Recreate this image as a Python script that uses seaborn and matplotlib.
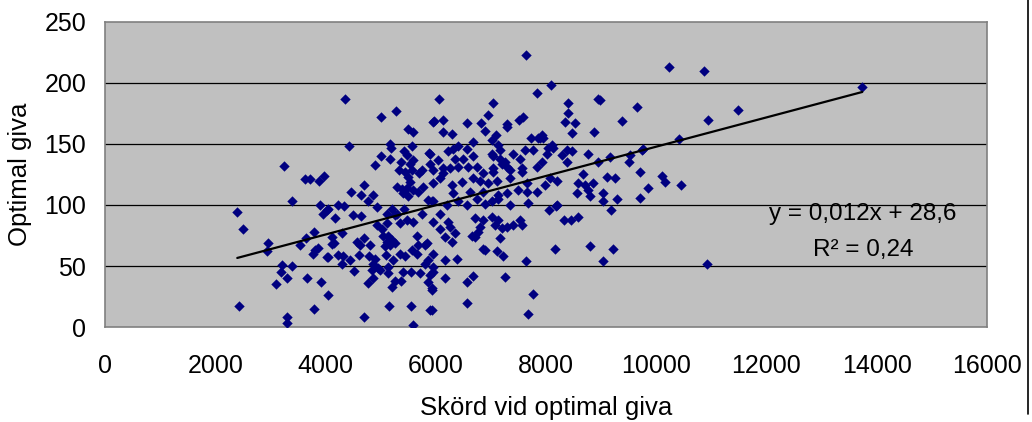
import numpy as np
import pandas as pd
import matplotlib
matplotlib.use("Agg")
import matplotlib.pyplot as plt
import seaborn as sns

# skord vid optimal giva (x) och optimal giva (y), avlasta ur diagrammet
skord = [
    2400, 3252, 3398, 3628, 3718, 3882, 3972, 3900, 3960, 4020,
    2497, 2963, 2945, 3205, 3187, 3386, 3295, 3102, 2436, 3295, 3307, 3670, 3918, 3797, 4050,
    3537, 3646, 3791, 3809, 3778, 3858, 4032,
    4353, 5001, 5273, 5502, 5581, 4426, 5170, 5182, 5574, 5955, 5001, 5170, 5424, 5472, 4897,
    5369, 5592, 5532, 5333, 5442, 5574, 5743, 5701, 5490, 5532, 5877, 5895, 4462, 4698, 4638,
    4867, 4765, 4929, 5291, 5382, 5472, 5400, 5490, 5592, 5672, 5763, 5864, 5937, 4039, 4232,
    4341, 4172, 4504, 4644, 5199, 5108, 5424, 5291, 5743,
    5260, 5472, 5592, 5351, 5108, 4929, 5019, 5049, 5139, 5199, 5108, 5170, 5260, 5079, 4123,
    4160, 4112, 4293, 4577, 4704, 4626, 4807, 4050, 4232, 4323, 4305, 4444, 4522, 4613, 4794,
    4897, 4867, 4838, 4957, 4854, 4765, 5090, 5228, 5139, 5127, 4988, 5260, 5369, 5199, 5411,
    5550, 5714, 5351, 5442, 5563, 5654, 5683, 5804, 5835, 5654, 5804, 5864, 5853, 5924, 5157,
    5550, 5895, 4704, 5581,
    7630, 7829, 6058, 7044, 5968, 6125, 6135, 6289, 6570, 6820, 6893, 6942, 7286, 7298, 7513,
    7576, 7722, 7848, 6680, 7012, 7092, 6227, 6318, 6409, 6561, 5895, 6045, 6349, 6499, 6680,
    7012, 7134, 7165, 7044, 7165, 7256, 7406, 7528, 7618, 7770, 6135, 6409, 6742, 7044, 7286,
    7558,
    5955, 6136, 6258, 6590, 6862, 7044, 7195, 7346, 7558, 7830,
    5955, 6076, 6288, 6469, 6680, 6802, 6952, 7104, 7346, 7648,
    6318, 6621, 6862, 7134, 7286, 7497, 7648, 7830,
    5955, 6197, 6409, 6560, 6742, 6893, 7013, 7134, 7346, 7677,
    6076, 6227, 5955, 6076, 6258, 6349, 6167, 6288,
    6711, 6862, 7013, 7134, 7074, 7195, 7286, 7406, 7528, 7558, 6802, 6772, 6651, 6711,
    7165, 6862, 6893, 7104, 7226, 7637, 5955, 5955, 5955, 6167, 6378, 5895, 6167, 6680, 6560,
    7256, 5925, 6560, 7756, 7677, 5925,
    8090, 8393, 8935, 8978, 9644, 8404, 8344, 8525, 8464, 9382, 8868, 7920, 7890, 7950, 8101,
    8041, 8131, 8374, 8464, 8283, 8766, 9160, 9523, 9735,
    7921, 8011, 8374, 8947, 9510, 9704,
    8071, 8192, 7980, 8676, 8585, 8856, 8706, 8766, 8555, 8796, 9099, 9250, 9038, 9038, 9281,
    9180, 9704,
    8053, 8175, 8193, 8332, 8453, 8574, 8162, 8797, 9220, 9026,
    10236, 10871, 11477, 10943, 10417, 9765, 10097, 10157, 9855, 10448, 10912,
    13737,
]
giva = [
    94, 132, 103, 121, 121, 120, 124, 100, 93, 96,
    80, 69, 62, 51, 45, 50, 40, 35, 17, 8, 3, 40, 37, 15, 26,
    67, 73, 78, 63, 60, 65, 57,
    187, 172, 177, 162, 160, 148, 150, 147, 148, 168, 140, 138, 144, 141, 133,
    135, 137, 134, 129, 127, 129, 129, 126, 123, 119, 143, 134, 111, 116, 108,
    108, 103, 98, 115, 113, 114, 110, 107, 112, 111, 115, 104, 103, 97, 100,
    99, 89, 92, 91, 97, 93, 97, 93, 93,
    92, 88, 86, 85, 85, 84, 80, 75, 75, 71, 70, 67, 69, 66, 74,
    69, 68, 77, 70, 73, 67, 67, 57, 59, 58, 52, 55, 46, 59, 58,
    56, 52, 47, 48, 40, 36, 59, 55, 49, 44, 47, 38, 38, 33, 45,
    45, 44, 60, 58, 63, 60, 67, 67, 69, 75, 52, 55, 37, 30, 17,
    17, 14, 8, 2,
    223, 192, 187, 184, 169, 170, 160, 158, 167, 167, 161, 174, 166, 164, 170,
    172, 155, 155, 152, 153, 157, 144, 146, 148, 146, 142, 137, 138, 138, 140,
    142, 149, 145, 140, 138, 135, 142, 138, 145, 145, 130, 131, 131, 130, 131,
    130,
    129, 126, 130, 131, 126, 127, 134, 129, 127, 131,
    118, 122, 116, 119, 122, 120, 118, 120, 122, 118,
    110, 111, 111, 108, 110, 112, 111, 111,
    103, 100, 103, 100, 105, 101, 103, 105, 100, 102,
    93, 86, 86, 80, 82, 77, 74, 70,
    89, 88, 90, 88, 84, 81, 82, 84, 88, 84, 82, 78, 75, 74,
    73, 64, 63, 62, 58, 54, 60, 49, 45, 55, 56, 43, 40, 42, 37,
    41, 32, 20, 27, 11, 14,
    198, 184, 187, 186, 180, 175, 168, 167, 159, 169, 160, 157, 155, 155, 149,
    147, 147, 145, 144, 141, 142, 139, 141, 145,
    135, 142, 135, 135, 135, 127,
    122, 120, 116, 125, 118, 118, 116, 112, 110, 107, 123, 122, 110, 103, 105,
    96, 106,
    96, 99, 100, 88, 88, 90, 64, 66, 64, 54,
    213, 210, 178, 170, 154, 146, 124, 119, 114, 116, 52,
    197,
]

# linjar trend enligt ekvationen i diagrammet
lutning = 0.012
intercept = 28.6
r2 = 0.24

df = pd.DataFrame({"skord": skord, "giva": giva})

sns.set_theme(style="white")
plt.rcParams["font.family"] = ["Liberation Sans", "DejaVu Sans"]
plt.rcParams["text.color"] = "black"
plt.rcParams["axes.labelcolor"] = "black"

fig = plt.figure(figsize=(10.32, 4.22), dpi=100)
ax = fig.add_axes([0.1017, 0.2251, 0.8547, 0.7228])
ax.set_facecolor("#C0C0C0")

sns.scatterplot(data=df, x="skord", y="giva", marker="D", s=28, color="#000080",
                edgecolor="#000080", linewidth=0, ax=ax, zorder=3)

xt = np.array([df["skord"].min(), df["skord"].max()])
ax.plot(xt, lutning * xt + intercept - 0.8, color="black", lw=1.6, zorder=4)

ax.set_xlim(0, 16000)
ax.set_ylim(0, 250)
ax.set_xticks(range(0, 16001, 2000))
ax.set_yticks(range(0, 251, 50))
for yv in [50, 100, 150, 200]:
    ax.axhline(yv, color="black", lw=0.9, zorder=1)

for sp in ax.spines.values():
    sp.set_color("#808080")
    sp.set_linewidth(1.2)
ax.tick_params(axis="both", direction="out", length=5.5, width=1, color="#808080",
               labelsize=18, labelcolor="black")
ax.tick_params(axis="y", pad=8)
ax.tick_params(axis="x", pad=14)

ax.set_xlabel("Skörd vid optimal giva", fontsize=18.5, labelpad=13)
ax.set_ylabel("Optimal giva", fontsize=18.5, labelpad=9)

ax.text(13750, 93, "y = 0,012x + 28,6", ha="center", va="center", fontsize=17.5)
ax.text(13750, 63, "R² = 0,24", ha="center", va="center", fontsize=17.5)

# ram till hoger
fig.add_artist(plt.Line2D([0.996, 0.996], [0.02, 1.0], color="black", lw=1.2,
                          transform=fig.transFigure))

fig.savefig("out.png", dpi=100)
